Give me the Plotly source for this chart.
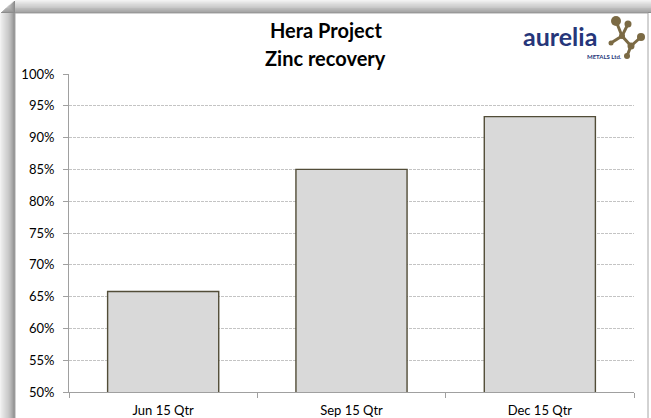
import plotly.graph_objects as go

# ---- data ----
categories = ["Jun 15 Qtr", "Sep 15 Qtr", "Dec 15 Qtr"]
zinc_recovery = [65.8, 85.0, 93.3]
title_lines = ["Hera Project", "Zinc recovery"]

W, H = 651, 418
L, R, T, B = 69, 17, 74, 26
PW, PH = W - L - R, H - T - B


def px(x):
    return (x - L) / PW


def py(y):
    return (H - B - y) / PH


FONT = "Lato"

fig = go.Figure()
fig.add_trace(go.Bar(
    x=categories, y=zinc_recovery,
    marker=dict(color="#d9d9d9", line=dict(color="#524d38", width=1.4)),
    base=0,
    hoverinfo="x+y",
))

shapes = []
# shadow on left and top of frame
n = 14
for i in range(n):
    g = int(250 - (i + 1) * 110 / n)
    col = f"rgb({g},{g},{g})"
    shapes.append(dict(type="rect", xref="paper", yref="paper", layer="below",
                       x0=px(i * 15 / n), x1=px((i + 1) * 15 / n), y0=py(13 - i * 13 / n), y1=py(440),
                       line=dict(width=0), fillcolor=col))
    shapes.append(dict(type="rect", xref="paper", yref="paper", layer="below",
                       x0=px(15 - i * 15 / n), x1=px(700), y0=py(i * 13 / n), y1=py((i + 1) * 13 / n),
                       line=dict(width=0), fillcolor=col))
# frame
shapes.append(dict(type="rect", xref="paper", yref="paper", layer="below",
                   x0=px(15), x1=px(648), y0=py(13), y1=py(440),
                   line=dict(color="#a6a6a6", width=1), fillcolor="white"))

# logo molecule
mol = "#7b6a44"
nodes = [(616, 21, 5), (628, 24, 3.5), (622, 36, 3), (641, 37, 4), (631, 46, 3.5), (627, 56, 3), (611, 43, 2.5)]
edges = [(0, 2), (1, 2), (2, 4), (4, 3), (4, 5), (2, 6)]
for a, b in edges:
    xa, ya, _ = nodes[a]
    xb, yb, _ = nodes[b]
    shapes.append(dict(type="line", xref="paper", yref="paper",
                       x0=px(xa), y0=py(ya), x1=px(xb), y1=py(yb),
                       line=dict(color=mol, width=3)))
for x, y, r in nodes:
    shapes.append(dict(type="circle", xref="paper", yref="paper",
                       x0=px(x - r), x1=px(x + r), y0=py(y - r), y1=py(y + r),
                       line=dict(width=0), fillcolor=mol))


def ann(text, x, y, size, color, weight="bold"):
    return dict(text=text, x=px(x), y=py(y), xref="paper", yref="paper",
                xanchor="center", yanchor="middle", showarrow=False,
                font=dict(family=FONT, size=size, color=color, weight=weight))


annotations = [
    ann(title_lines[0], 325.5, 30, 20, "#000000"),
    ann(title_lines[1], 325.5, 58, 20, "#000000"),
    ann("aurelia", 560, 36, 25, "#26367a"),
    ann("METALS Ltd.", 604, 57, 6, "#26367a"),
]

fig.update_layout(
    width=W, height=H,
    margin=dict(l=L, r=R, t=T, b=B, pad=0, autoexpand=False),
    paper_bgcolor="white",
    plot_bgcolor="rgba(0,0,0,0)",
    bargap=0.41,
    showlegend=False,
    shapes=shapes,
    annotations=annotations,
    font=dict(family=FONT, size=13, color="#000000"),
    xaxis=dict(
        automargin=False,
        showline=True, linecolor="#a0a0a0", linewidth=1,
        ticks="outside", tickson="boundaries", ticklen=5, tickcolor="#a0a0a0",
        showgrid=False, tickfont=dict(size=13),
        ticklabelstandoff=6,
    ),
    yaxis=dict(
        automargin=False,
        range=[50, 100], dtick=5, ticksuffix="%",
        showline=True, linecolor="#a0a0a0", linewidth=1,
        ticks="outside", ticklen=5, tickcolor="#a0a0a0",
        showgrid=True, gridcolor="#c4c4c4", griddash="3px,1px", gridwidth=1,
        zeroline=False, tickfont=dict(size=13),
        ticklabelstandoff=6,
    ),
)

fig.write_html("out.html", config={"displayModeBar": False},
               post_script="document.body.style.margin='0';")
